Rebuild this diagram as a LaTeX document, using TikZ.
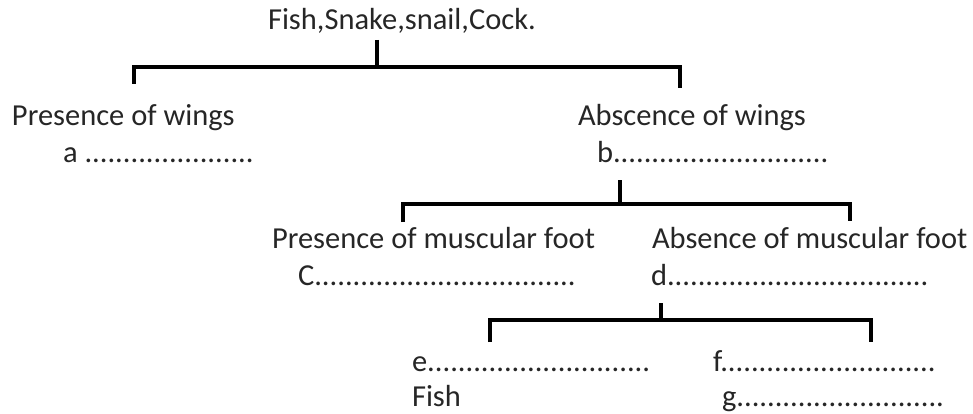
\documentclass[tikz,border=0pt]{standalone}
\usepackage{fontspec}
\setmainfont{Carlito}
\definecolor{txtgray}{HTML}{262626}
\begin{document}
\begin{tikzpicture}[x=1pt,y=-1pt,
  lbl/.style={anchor=base west,inner sep=0pt,outer sep=0pt,text=txtgray,
    font=\fontsize{30.5}{36}\selectfont},
  brk/.style={line width=3.8pt,line join=miter,line cap=butt,black}]
\useasboundingbox (0,0) rectangle (973,414);
% texts
\node[lbl] (root) at (268,30) {Fish,Snake,snail,Cock.};
\node[lbl] (pw) at (12,126) {Presence of wings};
\node[lbl] (aw) at (578,126) {Abscence of wings};
\node[lbl] (a) at (63,163) {a ......................};
\node[lbl] (b) at (597,163) {b............................};
\node[lbl] (pm) at (272,248) {Presence of muscular foot};
\node[lbl] (am) at (652,248) {Absence of muscular foot};
\node[lbl] (c) at (298,285) {C..................................};
\node[lbl] (d) at (651,285) {d..................................};
\node[lbl] (e) at (412,371) {e.............................};
\node[lbl] (f) at (713,371) {f............................};
\node[lbl] (fish) at (412,406) {Fish};
\node[lbl] (g) at (722,406) {g...........................};
% bracket coordinates
\coordinate (t0) at (377,40);
\coordinate (t1) at (377,67);
\coordinate (tl) at (134,84);
\coordinate (tr) at (680,88);
\coordinate (s0) at (620,180);
\coordinate (s1) at (620,204);
\coordinate (sl) at (403,222);
\coordinate (sr) at (850,221);
\coordinate (u0) at (661,303);
\coordinate (u1) at (661,320);
\coordinate (ul) at (490,342);
\coordinate (ur) at (871,342);
% brackets
\draw[brk] (tl) |- (t1) -| (tr);
\draw[brk] (t0) -- (t1);
\draw[brk] (sl) |- (s1) -| (sr);
\draw[brk] (s0) -- (s1);
\draw[brk] (ul) |- (u1) -| (ur);
\draw[brk] (u0) -- (u1);
\end{tikzpicture}
\end{document}
